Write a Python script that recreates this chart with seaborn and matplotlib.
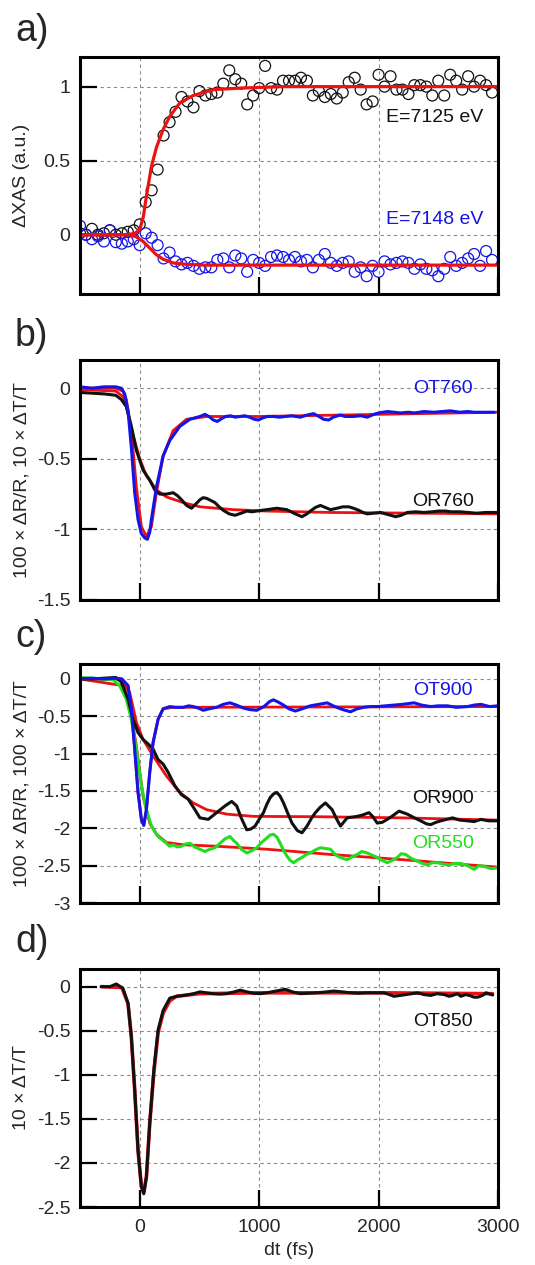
import numpy as np
import pandas as pd
import matplotlib
matplotlib.use("Agg")
import matplotlib.pyplot as plt
import seaborn as sns

# ---------------- data ----------------
# panel a: XAS scatter (time grid 50 fs)
t_a = list(range(-500, 3000, 50))
xas_7125 = [0.01, 0.00, 0.04, 0.00, 0.01, 0.03, 0.00, 0.01, 0.02, 0.03,
            0.07, 0.22, 0.30, 0.44, 0.67, 0.76, 0.83, 0.93, 0.90, 0.86,
            0.97, 0.94, 0.95, 0.96, 1.02, 1.11, 1.05, 1.02, 0.88, 0.94,
            0.99, 1.14, 0.99, 0.98, 1.04, 1.04, 1.04, 1.06, 1.04, 0.94,
            0.97, 0.93, 0.95, 0.92, 0.96, 1.03, 1.06, 0.98, 0.88, 0.90,
            1.08, 1.00, 1.07, 0.98, 0.98, 0.95, 1.01, 1.01, 1.00, 0.94,
            1.04, 0.94, 1.08, 1.04, 0.98, 1.07, 1.00, 1.04, 1.01, 0.96]
xas_7148 = [0.06, 0.00, -0.03, -0.01, -0.045, 0.03, -0.05, -0.06, -0.045, -0.03,
            -0.07, 0.01, -0.02, -0.07, -0.16, -0.12, -0.18, -0.20, -0.19, -0.21,
            -0.23, -0.22, -0.22, -0.17, -0.16, -0.22, -0.14, -0.16, -0.25, -0.17,
            -0.19, -0.21, -0.15, -0.14, -0.15, -0.17, -0.15, -0.18, -0.17, -0.22,
            -0.17, -0.13, -0.19, -0.21, -0.19, -0.18, -0.25, -0.22, -0.28, -0.21,
            -0.25, -0.18, -0.20, -0.19, -0.18, -0.19, -0.23, -0.20, -0.23, -0.24,
            -0.28, -0.23, -0.15, -0.21, -0.19, -0.16, -0.13, -0.21, -0.11, -0.17]
fit_a1_t = [-500, -100, -40, 0, 30, 56, 98, 140, 196, 252, 336, 448, 616, 840, 1200, 3000]
fit_a1_y = [0.0, 0.0, 0.01, 0.034, 0.12, 0.26, 0.46, 0.59, 0.71, 0.80, 0.89, 0.94, 0.98, 0.99, 1.0, 1.0]
fit_a2_t = [-500, -84, -28, 28, 84, 140, 196, 280, 392, 560, 3000]
fit_a2_y = [0.0, 0.0, -0.015, -0.045, -0.09, -0.135, -0.165, -0.19, -0.20, -0.205, -0.205]

# panel b
ot760_t = [-500, -400, -300, -200, -154, -126, -98, -70, -42, -14, 14, 42, 64, 84, 98, 140, 196, 252,
           336, 420, 504, 546, 580, 616, 650, 686, 720, 760, 800, 840, 880, 920, 960, 994, 1030, 1070,
           1120, 1170, 1220, 1270, 1345, 1400, 1457, 1500, 1540, 1583, 1620, 1680, 1720, 1790, 1850,
           1905, 1960, 2000, 2073, 2130, 2185, 2250, 2300, 2380, 2465, 2530, 2600, 2680, 2745, 2800,
           2860, 2969]
ot760_y = [0.01, 0.0, 0.01, 0.01, 0.0, -0.04, -0.16, -0.42, -0.74, -0.93, -1.03, -1.06, -1.07, -1.02,
           -0.93, -0.70, -0.48, -0.37, -0.27, -0.22, -0.20, -0.185, -0.20, -0.225, -0.235, -0.215, -0.20,
           -0.195, -0.205, -0.20, -0.195, -0.205, -0.22, -0.225, -0.21, -0.20, -0.20, -0.205, -0.20,
           -0.195, -0.205, -0.19, -0.18, -0.20, -0.22, -0.225, -0.205, -0.19, -0.20, -0.20, -0.195,
           -0.205, -0.185, -0.175, -0.165, -0.17, -0.175, -0.17, -0.175, -0.165, -0.17, -0.165, -0.16,
           -0.17, -0.165, -0.17, -0.17, -0.17]
or760_t = [-500, -400, -300, -200, -154, -112, -70, -28, 28, 84, 126, 168, 224, 280, 315, 350, 392, 434,
           470, 504, 532, 560, 595, 630, 665, 700, 750, 798, 850, 896, 940, 980, 1020, 1064, 1106, 1148,
           1190, 1232, 1290, 1358, 1400, 1429, 1470, 1513, 1555, 1597, 1625, 1653, 1700, 1751, 1790, 1835,
           1870, 1905, 1960, 2017, 2080, 2143, 2190, 2241, 2310, 2381, 2450, 2500, 2560, 2605, 2680, 2750,
           2820, 2900, 3000]
or760_y = [-0.03, -0.035, -0.04, -0.05, -0.08, -0.13, -0.27, -0.44, -0.58, -0.65, -0.72, -0.75, -0.75,
           -0.74, -0.76, -0.79, -0.83, -0.85, -0.82, -0.79, -0.775, -0.78, -0.795, -0.81, -0.84, -0.865,
           -0.89, -0.90, -0.885, -0.87, -0.875, -0.87, -0.865, -0.86, -0.855, -0.85, -0.855, -0.86, -0.885,
           -0.91, -0.89, -0.87, -0.845, -0.83, -0.845, -0.86, -0.855, -0.85, -0.84, -0.84, -0.85, -0.865,
           -0.88, -0.89, -0.885, -0.88, -0.895, -0.91, -0.90, -0.88, -0.875, -0.88, -0.875, -0.87, -0.87,
           -0.875, -0.875, -0.88, -0.885, -0.88, -0.88]
fit_ot760_t = [-500, -200, -140, -112, -70, -28, 14, 56, 98, 140, 196, 280, 392, 560, 1000, 2000, 3000]
fit_ot760_y = [0.0, 0.0, -0.02, -0.08, -0.30, -0.70, -0.98, -1.05, -0.98, -0.74, -0.48, -0.30, -0.22,
               -0.20, -0.20, -0.185, -0.17]
fit_or760_t = [-500, -200, -140, -112, -56, 0, 56, 140, 224, 364, 504, 784, 1064, 1600, 3000]
fit_or760_y = [-0.01, -0.02, -0.06, -0.13, -0.33, -0.50, -0.62, -0.72, -0.77, -0.81, -0.84, -0.86, -0.87,
               -0.88, -0.89]

# panel c
ot900_t = [-500, -400, -300, -200, -150, -98, -70, -42, -14, 14, 34, 56, 84, 112, 154, 196, 252, 300,
           364, 410, 448, 490, 532, 580, 644, 700, 756, 810, 868, 920, 980, 1040, 1090, 1120, 1160, 1204,
           1250, 1303, 1360, 1429, 1500, 1569, 1620, 1681, 1720, 1765, 1820, 1877, 1930, 1989, 2060, 2129,
           2200, 2297, 2360, 2437, 2500, 2577, 2650, 2745, 2800, 2857, 2930, 2997]
ot900_y = [0.0, 0.01, 0.0, 0.01, 0.0, -0.09, -0.40, -0.94, -1.52, -1.88, -1.96, -1.75, -1.25, -0.85,
           -0.54, -0.40, -0.37, -0.38, -0.38, -0.36, -0.37, -0.39, -0.42, -0.40, -0.38, -0.34, -0.32,
           -0.35, -0.39, -0.41, -0.42, -0.37, -0.30, -0.28, -0.31, -0.35, -0.40, -0.43, -0.40, -0.36,
           -0.34, -0.32, -0.36, -0.40, -0.42, -0.44, -0.40, -0.38, -0.37, -0.37, -0.36, -0.35, -0.34,
           -0.32, -0.35, -0.37, -0.36, -0.36, -0.38, -0.37, -0.35, -0.34, -0.37, -0.36]
or900_t = [-500, -400, -300, -200, -154, -98, -56, -14, 28, 70, 112, 154, 196, 238, 294, 350, 406, 462,
           504, 574, 644, 714, 770, 812, 850, 896, 930, 966, 1000, 1036, 1064, 1092, 1120, 1148, 1176,
           1204, 1240, 1275, 1320, 1359, 1401, 1440, 1471, 1510, 1555, 1611, 1650, 1681, 1737, 1780, 1821,
           1870, 1919, 1950, 1989, 2030, 2073, 2120, 2171, 2241, 2300, 2353, 2400, 2437, 2480, 2521, 2570,
           2619, 2680, 2745, 2800, 2857, 2920, 2997]
or900_y = [0.0, 0.0, 0.01, 0.02, -0.04, -0.27, -0.54, -0.72, -0.81, -0.87, -0.94, -1.08, -1.14, -1.25,
           -1.43, -1.55, -1.61, -1.75, -1.86, -1.88, -1.79, -1.70, -1.64, -1.70, -1.86, -2.02, -2.01, -1.97,
           -1.88, -1.79, -1.68, -1.59, -1.54, -1.52, -1.57, -1.66, -1.80, -1.93, -2.03, -2.06, -1.97, -1.86,
           -1.79, -1.72, -1.66, -1.75, -1.88, -1.97, -1.86, -1.85, -1.84, -1.82, -1.79, -1.84, -1.93,
           -1.92, -1.88, -1.83, -1.77, -1.81, -1.86, -1.90, -1.94, -1.95, -1.92, -1.90, -1.88, -1.86,
           -1.89, -1.90, -1.91, -1.88, -1.90, -1.90]
or550_t = [-500, -400, -336, -224, -168, -112, -70, -28, 14, 56, 98, 154, 224, 250, 280, 315, 350, 385,
           420, 460, 504, 545, 588, 630, 672, 715, 756, 790, 812, 850, 896, 940, 980, 1020, 1064, 1092, 1120,
           1150, 1176, 1205, 1232, 1260, 1289, 1325, 1359, 1395, 1429, 1470, 1513, 1555, 1597, 1625, 1653,
           1695, 1737, 1780, 1821, 1860, 1905, 1945, 1989, 2030, 2073, 2115, 2157, 2190, 2227, 2270, 2325,
           2365, 2409, 2450, 2493, 2540, 2591, 2640, 2689, 2745, 2801, 2840, 2885, 2940, 2997]
or550_y = [0.02, 0.01, 0.0, -0.01, -0.09, -0.27, -0.54, -0.94, -1.43, -1.75, -1.97, -2.11, -2.20, -2.24,
           -2.22, -2.25, -2.24, -2.21, -2.20, -2.25, -2.28, -2.31, -2.28, -2.26, -2.20, -2.14, -2.11, -2.17,
           -2.20, -2.28, -2.33, -2.30, -2.26, -2.19, -2.13, -2.09, -2.08, -2.12, -2.20, -2.30, -2.37, -2.43,
           -2.46, -2.42, -2.39, -2.35, -2.33, -2.29, -2.26, -2.27, -2.28, -2.33, -2.37, -2.40, -2.42, -2.38,
           -2.35, -2.31, -2.33, -2.36, -2.39, -2.43, -2.46, -2.43, -2.39, -2.34, -2.35, -2.40, -2.44,
           -2.47, -2.49, -2.46, -2.46, -2.48, -2.49, -2.47, -2.47, -2.50, -2.55, -2.50, -2.51, -2.54, -2.53]
fit_ot900_t = [-500, -150, -98, -70, -42, -14, 14, 34, 56, 84, 112, 154, 196, 280, 3000]
fit_ot900_y = [0.0, 0.0, -0.09, -0.40, -0.94, -1.52, -1.88, -1.96, -1.75, -1.25, -0.85, -0.54, -0.40,
               -0.38, -0.37]
fit_or900_t = [-500, -168, -84, -28, 28, 112, 224, 336, 448, 560, 728, 952, 1500, 2200, 3000]
fit_or900_y = [0.0, 0.0, -0.18, -0.58, -0.81, -1.03, -1.30, -1.52, -1.66, -1.75, -1.81, -1.84, -1.845,
               -1.86, -1.89]
fit_or550_t = [-500, -140, -84, -28, 28, 84, 140, 224, 364, 644, 1064, 1600, 2200, 3000]
fit_or550_y = [0.0, -0.09, -0.36, -0.90, -1.57, -1.93, -2.08, -2.19, -2.22, -2.24, -2.28, -2.35, -2.42,
               -2.52]

# panel d
ot850_t = [-322, -250, -196, -140, -98, -70, -42, -14, 14, 34, 56, 84, 118, 154, 196, 252, 308, 392, 450,
           504, 560, 616, 670, 728, 790, 840, 900, 952, 1010, 1064, 1140, 1218, 1280, 1345, 1420, 1485,
           1560, 1625, 1700, 1765, 1830, 1905, 1970, 2045, 2090, 2129, 2180, 2230, 2280, 2325, 2380, 2437,
           2490, 2549, 2590, 2620, 2660, 2689, 2730, 2760, 2800, 2829, 2870, 2899, 2955]
ot850_y = [0.0, 0.0, 0.03, -0.02, -0.19, -0.57, -1.17, -1.86, -2.27, -2.35, -2.16, -1.55, -0.95, -0.49,
           -0.27, -0.13, -0.11, -0.095, -0.08, -0.06, -0.07, -0.08, -0.085, -0.08, -0.06, -0.04, -0.06,
           -0.075, -0.08, -0.07, -0.05, -0.03, -0.06, -0.08, -0.075, -0.07, -0.06, -0.05, -0.06, -0.07,
           -0.075, -0.07, -0.07, -0.07, -0.09, -0.11, -0.10, -0.09, -0.08, -0.07, -0.09, -0.10, -0.08,
           -0.09, -0.11, -0.10, -0.08, -0.11, -0.09, -0.10, -0.12, -0.12, -0.10, -0.07, -0.095]
fit_ot850_t = [-322, -150, -98, -70, -42, -14, 14, 34, 56, 84, 118, 154, 196, 252, 308, 500, 1000, 2000, 2955]
fit_ot850_y = [0.0, -0.01, -0.19, -0.57, -1.17, -1.86, -2.27, -2.33, -2.16, -1.55, -0.98, -0.52, -0.30,
               -0.16, -0.11, -0.08, -0.07, -0.07, -0.08]

# ---------------- style ----------------
sns.set_style("white")
plt.rcParams['font.family'] = ['Liberation Sans', 'DejaVu Sans']
plt.rcParams['axes.unicode_minus'] = False

RED = "#ee1111"
BLUE = "#1414e6"
GREEN = "#22dd22"
BLACK = "#111111"
FS = 14
LFS = 14

fig = plt.figure(figsize=(5.35, 12.65), dpi=100)
left, width = 80 / 535, 418 / 535
boxes = [(57, 294), (360, 600), (664, 903), (969, 1207)]
axes = []
for top, bot in boxes:
    axes.append(fig.add_axes([left, 1 - bot / 1265, width, (bot - top) / 1265]))


def style(ax, ylim, yticks, ylabel, show_x=False):
    ax.set_xlim(-500, 3000)
    ax.set_ylim(*ylim)
    ax.set_xticks([0, 1000, 2000, 3000])
    ax.set_yticks(yticks)
    ax.set_yticklabels([f"{v:g}" for v in yticks])
    if show_x:
        ax.set_xticklabels(["0", "1000", "2000", "3000"])
    else:
        ax.set_xticklabels([])
    ax.set_axisbelow(True)
    ax.grid(True, color="#8a8a8a", lw=0.8, ls=(0, (3, 3)))
    for s in ax.spines.values():
        s.set_linewidth(2.2)
        s.set_color("black")
    ax.tick_params(axis="both", direction="in", length=12, width=1.6, color="black",
                   labelsize=FS, top=False, right=False, left=True, bottom=True)
    ax.tick_params(axis="y", pad=7)
    ax.tick_params(axis="x", pad=9)
    ax.set_ylabel(ylabel, fontsize=LFS, va="center")
    ax.yaxis.set_label_coords((22 - 80) / 418, 0.5)
    ax.set_xlabel("")


def line(ax, t, y, color, lw):
    sns.lineplot(x=t, y=y, ax=ax, color=color, lw=lw, estimator=None, sort=False, legend=False)


# a)
ax = axes[0]
sns.scatterplot(x=t_a, y=xas_7125, ax=ax, marker="o", s=62, facecolor="none",
                edgecolor=BLACK, linewidth=0.9, legend=False)
sns.scatterplot(x=t_a, y=xas_7148, ax=ax, marker="o", s=62, facecolor="none",
                edgecolor=BLUE, linewidth=0.9, legend=False)
line(ax, fit_a1_t, fit_a1_y, RED, 2.3)
line(ax, fit_a2_t, fit_a2_y, RED, 2.3)
style(ax, (-0.4, 1.2), [0, 0.5, 1], "ΔXAS (a.u.)")
ax.text(2880, 0.79, "E=7125 eV", color=BLACK, ha="right", va="center", fontsize=FS)
ax.text(2880, 0.10, "E=7148 eV", color=BLUE, ha="right", va="center", fontsize=FS)

# b)
ax = axes[1]
line(ax, fit_or760_t, fit_or760_y, RED, 2.0)
line(ax, fit_ot760_t, fit_ot760_y, RED, 2.0)
line(ax, or760_t, or760_y, BLACK, 2.2)
line(ax, ot760_t, ot760_y, BLUE, 2.2)
style(ax, (-1.5, 0.2), [-1.5, -1, -0.5, 0], "100 × ΔR/R, 10 × ΔT/T")
ax.text(2790, 0.0, "OT760", color=BLUE, ha="right", va="center", fontsize=FS)
ax.text(2800, -0.80, "OR760", color=BLACK, ha="right", va="center", fontsize=FS)

# c)
ax = axes[2]
line(ax, fit_or550_t, fit_or550_y, RED, 2.0)
line(ax, fit_or900_t, fit_or900_y, RED, 2.0)
line(ax, fit_ot900_t, fit_ot900_y, RED, 2.0)
line(ax, or550_t, or550_y, GREEN, 2.2)
line(ax, or900_t, or900_y, BLACK, 2.2)
line(ax, ot900_t, ot900_y, BLUE, 2.2)
style(ax, (-3, 0.2), [-3, -2.5, -2, -1.5, -1, -0.5, 0], "100 × ΔR/R, 100 × ΔT/T")
ax.text(2790, -0.15, "OT900", color=BLUE, ha="right", va="center", fontsize=FS)
ax.text(2800, -1.60, "OR900", color=BLACK, ha="right", va="center", fontsize=FS)
ax.text(2800, -2.21, "OR550", color=GREEN, ha="right", va="center", fontsize=FS)

# d)
ax = axes[3]
line(ax, fit_ot850_t, fit_ot850_y, RED, 2.6)
line(ax, ot850_t, ot850_y, BLACK, 2.2)
style(ax, (-2.5, 0.2), [-2.5, -2, -1.5, -1, -0.5, 0], "10 × ΔT/T", show_x=True)
ax.set_xlabel("dt (fs)", fontsize=LFS, labelpad=4)
ax.text(2790, -0.39, "OT850", color=BLACK, ha="right", va="center", fontsize=FS)

# panel letters
for lab, yc in zip(["a)", "b)", "c)", "d)"], [31, 336, 637, 942]):
    fig.text(15 / 535, 1 - yc / 1265, lab, fontsize=27, ha="left", va="center")

fig.savefig("out.png", dpi=100)
